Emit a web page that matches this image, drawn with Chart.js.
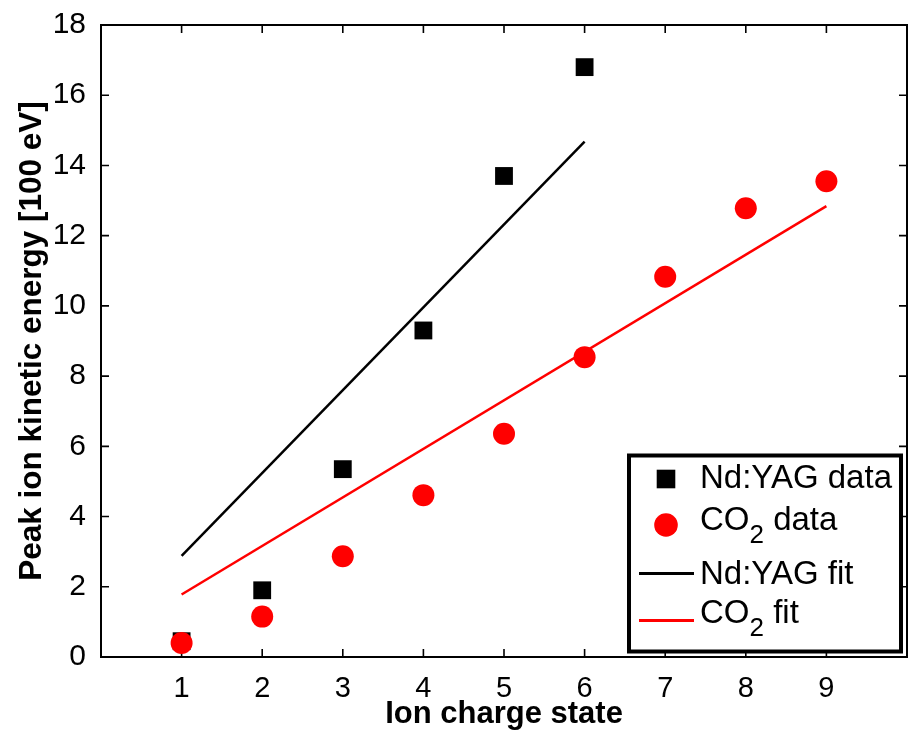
<!DOCTYPE html>
<html>
<head>
<meta charset="utf-8">
<script src="https://cdn.jsdelivr.net/npm/chart.js@4/dist/chart.umd.min.js"></script>
<style>
  html, body { margin: 0; padding: 0; background: #ffffff; }
  #wrap { width: 913px; height: 733px; }
</style>
</head>
<body>
<div id="wrap"><canvas id="c" width="913" height="733"></canvas></div>
<script>
// ---- data ----
const chargeStates = [1, 2, 3, 4, 5, 6, 7, 8, 9];
const ndYagCharge = [1, 2, 3, 4, 5, 6];
const ndYagEnergy = [0.45, 1.9, 5.35, 9.3, 13.7, 16.8];
const co2Charge = [1, 2, 3, 4, 5, 6, 7, 8, 9];
const co2Energy = [0.40, 1.15, 2.87, 4.61, 6.36, 8.54, 10.83, 12.78, 13.55];
const ndYagFitCharge = [1, 6];
const ndYagFitEnergy = [2.88, 14.68];
const co2FitCharge = [1, 9];
const co2FitEnergy = [1.78, 12.84];
const yTicks = [0, 2, 4, 6, 8, 10, 12, 14, 16, 18];
const xTitle = 'Ion charge state';
const yTitle = 'Peak ion kinetic energy [100 eV]';
// legend labels: [main text, subscript, trailing text]
const legendLabels = [
  ['Nd:YAG data', '', ''],
  ['CO', '2', ' data'],
  ['Nd:YAG fit', '', ''],
  ['CO', '2', ' fit']
];

const toPts = (xs, ys) => xs.map((x, i) => ({ x: x, y: ys[i] }));
const FONT = '"Liberation Sans", Arial, Helvetica, sans-serif';

const framePlugin = {
  id: 'frame',
  beforeDatasetsDraw(chart) {
    const { ctx, chartArea: a, scales: { x, y } } = chart;
    ctx.save();
    ctx.strokeStyle = '#000';
    ctx.lineWidth = 2;
    ctx.strokeRect(a.left, a.top, a.right - a.left, a.bottom - a.top);
    ctx.lineWidth = 1.6;
    const tl = 8;
    ctx.beginPath();
    chargeStates.forEach(v => {
      const px = x.getPixelForValue(v);
      ctx.moveTo(px, a.bottom); ctx.lineTo(px, a.bottom - tl);
      ctx.moveTo(px, a.top); ctx.lineTo(px, a.top + tl);
    });
    yTicks.forEach(v => {
      const py = y.getPixelForValue(v);
      ctx.moveTo(a.left, py); ctx.lineTo(a.left + tl, py);
      ctx.moveTo(a.right, py); ctx.lineTo(a.right - tl, py);
    });
    ctx.stroke();
    ctx.restore();
  },
  afterDatasetsDraw(chart) {
    const { ctx, chartArea: a } = chart;
    const ds = chart.data.datasets;
    // legend box
    const bx = a.right - 278, by = a.bottom - 201.5, bw = 272, bh = 196;
    ctx.save();
    ctx.fillStyle = '#fff';
    ctx.fillRect(bx, by, bw, bh);
    ctx.strokeStyle = '#000';
    ctx.lineWidth = 4;
    ctx.strokeRect(bx, by, bw, bh);
    const textX = bx + 71;
    const markX = bx + 37;
    const textYs = [23, 65, 119, 158];
    const markYs = [23.5, 69.5, 118, 165];
    // order of entries: Nd:YAG data, CO2 data, Nd:YAG fit, CO2 fit
    const entries = [ds[1], ds[0], ds[2], ds[3]];
    entries.forEach((d, i) => {
      const my = by + markYs[i];
      if (d.showLine) {
        ctx.strokeStyle = d.borderColor;
        ctx.lineWidth = 3;
        ctx.beginPath();
        ctx.moveTo(bx + 10, my); ctx.lineTo(bx + 65, my);
        ctx.stroke();
      } else if (d.pointStyle === 'rect') {
        ctx.fillStyle = d.backgroundColor;
        ctx.fillRect(markX - 9.3, my - 9.3, 18.6, 18.6);
      } else {
        ctx.fillStyle = d.backgroundColor;
        ctx.beginPath();
        ctx.arc(markX, my, 11.8, 0, Math.PI * 2);
        ctx.fill();
      }
      const ty = by + textYs[i];
      const [main, sub, rest] = legendLabels[i];
      ctx.fillStyle = '#000';
      ctx.textBaseline = 'middle';
      ctx.textAlign = 'left';
      ctx.font = '33px ' + FONT;
      ctx.fillText(main, textX, ty);
      let cx = textX + ctx.measureText(main).width;
      if (sub) {
        ctx.font = '26px ' + FONT;
        ctx.fillText(sub, cx, ty + 15);
        cx += ctx.measureText(sub).width;
        ctx.font = '33px ' + FONT;
        ctx.fillText(rest, cx, ty);
      }
    });
    ctx.restore();
  }
};

new Chart(document.getElementById('c'), {
  type: 'scatter',
  data: {
    datasets: [
      {
        label: 'CO2 data', data: toPts(co2Charge, co2Energy),
        pointStyle: 'circle', pointRadius: 11, pointHoverRadius: 11,
        backgroundColor: '#ff0000', borderColor: '#ff0000', borderWidth: 0,
        showLine: false, order: 0
      },
      {
        label: 'Nd:YAG data', data: toPts(ndYagCharge, ndYagEnergy),
        pointStyle: 'rect', pointRadius: 12.6, pointHoverRadius: 12.6,
        backgroundColor: '#000000', borderColor: '#000000', borderWidth: 0,
        showLine: false, order: 1
      },
      {
        label: 'Nd:YAG fit', data: toPts(ndYagFitCharge, ndYagFitEnergy),
        showLine: true, pointRadius: 0, borderColor: '#000000', backgroundColor: '#000000',
        borderWidth: 2.5, order: 2
      },
      {
        label: 'CO2 fit', data: toPts(co2FitCharge, co2FitEnergy),
        showLine: true, pointRadius: 0, borderColor: '#ff0000', backgroundColor: '#ff0000',
        borderWidth: 2.5, order: 3
      }
    ]
  },
  options: {
    responsive: false,
    animation: false,
    devicePixelRatio: 1,
    layout: { autoPadding: false, padding: { top: 20, right: 6, bottom: 0, left: 0 } },
    plugins: { legend: { display: false }, tooltip: { enabled: false }, title: { display: false } },
    scales: {
      x: {
        type: 'linear', min: 0, max: 10,
        grid: { display: false },
        border: { display: false },
        afterBuildTicks: s => { s.ticks = chargeStates.map(v => ({ value: v })); },
        afterFit: s => { s.height = 76; s.paddingRight = 0; s.paddingLeft = 0; },
        ticks: { autoSkip: false, maxRotation: 0, padding: 7, color: '#000', font: { family: FONT, size: 29 } },
        title: { display: true, text: xTitle, color: '#000', padding: { top: 0, bottom: 0 },
                 font: { family: FONT, size: 31, weight: 'bold' } }
      },
      y: {
        type: 'linear', min: 0, max: 18,
        grid: { display: false },
        border: { display: false },
        afterBuildTicks: s => { s.ticks = yTicks.map(v => ({ value: v })); },
        afterFit: s => { s.width = 101; },
        ticks: { padding: 7, color: '#000', font: { family: FONT, size: 30 } },
        title: { display: true, text: yTitle, color: '#000', padding: { top: 13, bottom: 0 },
                 font: { family: FONT, size: 31.5, weight: 'bold' } }
      }
    }
  },
  plugins: [framePlugin]
});
</script>
</body>
</html>
